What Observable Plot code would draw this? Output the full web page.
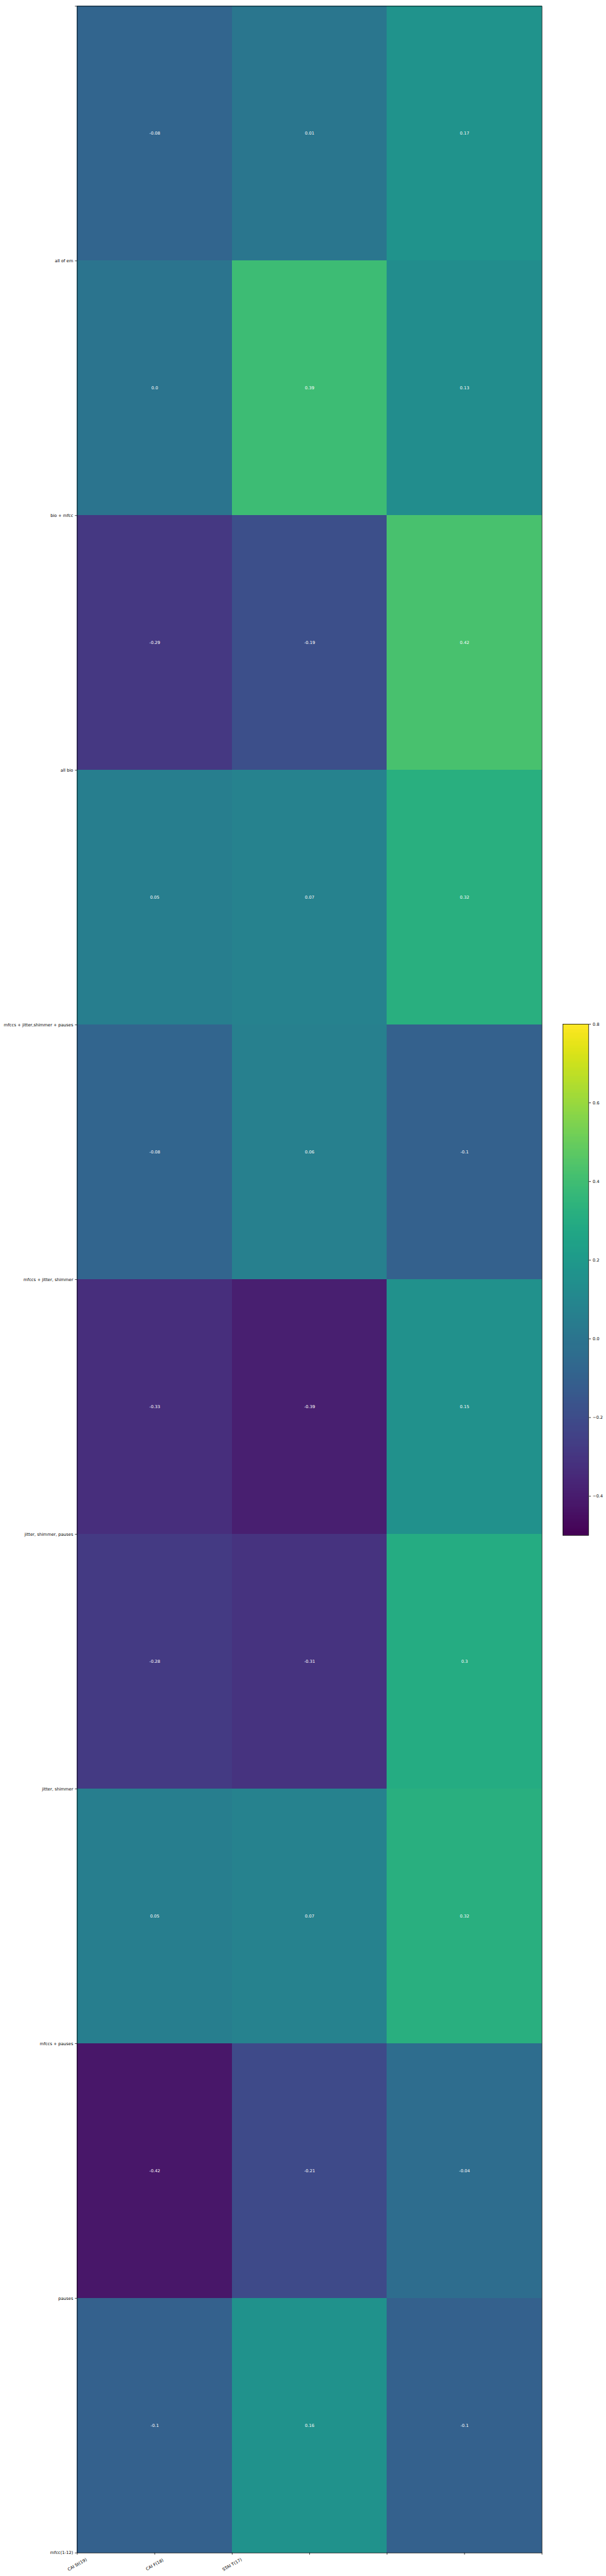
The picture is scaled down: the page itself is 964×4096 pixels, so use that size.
<!DOCTYPE html>
<html>
<head>
<meta charset="utf-8">
<script src="https://cdn.jsdelivr.net/npm/d3@7"></script>
<script src="https://cdn.jsdelivr.net/npm/@observablehq/plot@0.6"></script>
<style>
  html, body { margin: 0; padding: 0; background: #ffffff; }
  #wrap { position: relative; width: 964px; height: 4096px; background: #ffffff; font-family: "DejaVu Sans", sans-serif; }
  #main { position: absolute; left: 0; top: 0; }
  #cbar { position: absolute; left: 894.5px; top: 1623.7px; }
</style>
</head>
<body>
<div id="wrap"><div id="main"></div><div id="cbar"></div></div>
<script>
// Column (x tick) labels, as set on the first three x ticks
const xLabels = ["CAI St(19)", "CAI F(18)", "STAI T(17)"];
const xTicks = [0, 0.5, 1, 1.5, 2, 2.5, 3];
// Y tick labels, assigned to ticks 0..9 from bottom to top
const yLabels = ["mfcc(1-12)", "pauses", "mfccs + pauses", "jitter, shimmer",
  "jitter, shimmer, pauses", "mfccs + jitter, shimmer", "mfccs + jitter,shimmer + pauses",
  "all bio", "bio + mfcc", "all of em"];
const yTicks = [0, 1, 2, 3, 4, 5, 6, 7, 8, 9, 10];
// Cell values per column, rows listed from top to bottom
const caiSt = [-0.08, 0.0, -0.29, 0.05, -0.08, -0.33, -0.28, 0.05, -0.42, -0.1];
const caiF  = [0.01, 0.39, -0.19, 0.07, 0.06, -0.39, -0.31, 0.07, -0.21, 0.16];
const staiT = [0.17, 0.13, 0.42, 0.32, -0.1, 0.15, 0.3, 0.32, -0.04, -0.1];
// Colour bar
const colorDomain = [-0.5, 0.8];
const cbarTicks = [-0.4, -0.2, 0.0, 0.2, 0.4, 0.6, 0.8];

(function () {
  const columns = [caiSt, caiF, staiT];
  const nRows = caiSt.length;
  const cells = [];
  columns.forEach((col, c) => {
    col.forEach((v, r) => {
      cells.push({x1: c, x2: c + 1, y1: nRows - 1 - r, y2: nRows - r, v});
    });
  });
  const fmt = v => Number.isInteger(v) ? v.toFixed(1) : String(v);

  const S = 0.669;
  const W = 964, H = 4096;
  const mLeft = 183 * S, mRight = 1288 * S, mTop = 14 * S, mBottom = 6067 * S;
  const tick = 4.86 * S, pad = 4.86 * S;
  const fs = 10 * S;

  const colorOpts = {type: "linear", scheme: "viridis", domain: colorDomain};

  const main = Plot.plot({
    width: W,
    height: H,
    marginLeft: mLeft,
    marginRight: W - mRight,
    marginTop: mTop,
    marginBottom: H - mBottom,
    style: {fontFamily: "DejaVu Sans", fontSize: fs + "px", background: "#ffffff", color: "#000"},
    x: {type: "linear", domain: [0, 3]},
    y: {type: "linear", domain: [0, 10]},
    color: colorOpts,
    marks: [
      Plot.rect(cells, {x1: "x1", x2: "x2", y1: "y1", y2: "y2", fill: "v", shapeRendering: "crispEdges"}),
      Plot.text(cells, {
        x: d => (d.x1 + d.x2) / 2,
        y: d => (d.y1 + d.y2) / 2,
        text: d => fmt(d.v),
        fill: "#ffffff",
        fontSize: fs
      }),
      Plot.frame({stroke: "#000", strokeWidth: 0.75}),
      Plot.axisY({
        ticks: yTicks,
        tickFormat: (d, i) => yLabels[i] ?? "",
        tickSize: tick,
        tickPadding: pad,
        strokeWidth: 0.75,
        label: null,
        fontSize: fs
      }),
      Plot.axisX({
        ticks: xTicks,
        tickFormat: (d, i) => xLabels[i] ?? "",
        tickSize: tick,
        tickPadding: 18.5 - tick,
        tickRotate: -30,
        textAnchor: "middle",
        lineAnchor: "middle",
        strokeWidth: 0.75,
        label: null,
        fontSize: fs
      })
    ]
  });
  document.getElementById("main").appendChild(main);

  // Colour bar (0.8 at top, -0.4 tick 1.2 units below, 935 px per unit in reference)
  const unit = 935 * S;
  const cbW = 40.8, cbH = unit * (colorDomain[1] - colorDomain[0]), cbMT = 4, cbMB = 4, cbMR = 28;
  const step = 0.004;
  const stripes = d3.range(colorDomain[0], colorDomain[1], step).map(v => ({
    y1: v, y2: Math.min(v + step * 1.5, colorDomain[1]), v: v + step / 2
  }));
  const cbar = Plot.plot({
    width: cbW + cbMR,
    height: cbH + cbMT + cbMB,
    marginLeft: 0,
    marginRight: cbMR,
    marginTop: cbMT,
    marginBottom: cbMB,
    style: {fontFamily: "DejaVu Sans", fontSize: fs + "px", background: "transparent", color: "#000", overflow: "visible"},
    x: {type: "linear", domain: [0, 1], axis: null},
    y: {type: "linear", domain: colorDomain},
    color: colorOpts,
    marks: [
      Plot.rect(stripes, {x1: 0, x2: 1, y1: "y1", y2: "y2", fill: "v", shapeRendering: "crispEdges"}),
      Plot.frame({stroke: "#000", strokeWidth: 0.75}),
      Plot.axisY({
        anchor: "right",
        ticks: cbarTicks,
        tickFormat: d3.format(".1f"),
        tickSize: tick,
        tickPadding: pad,
        strokeWidth: 0.75,
        label: null,
        fontSize: fs
      })
    ]
  });
  document.getElementById("cbar").appendChild(cbar);
})();
</script>
</body>
</html>
